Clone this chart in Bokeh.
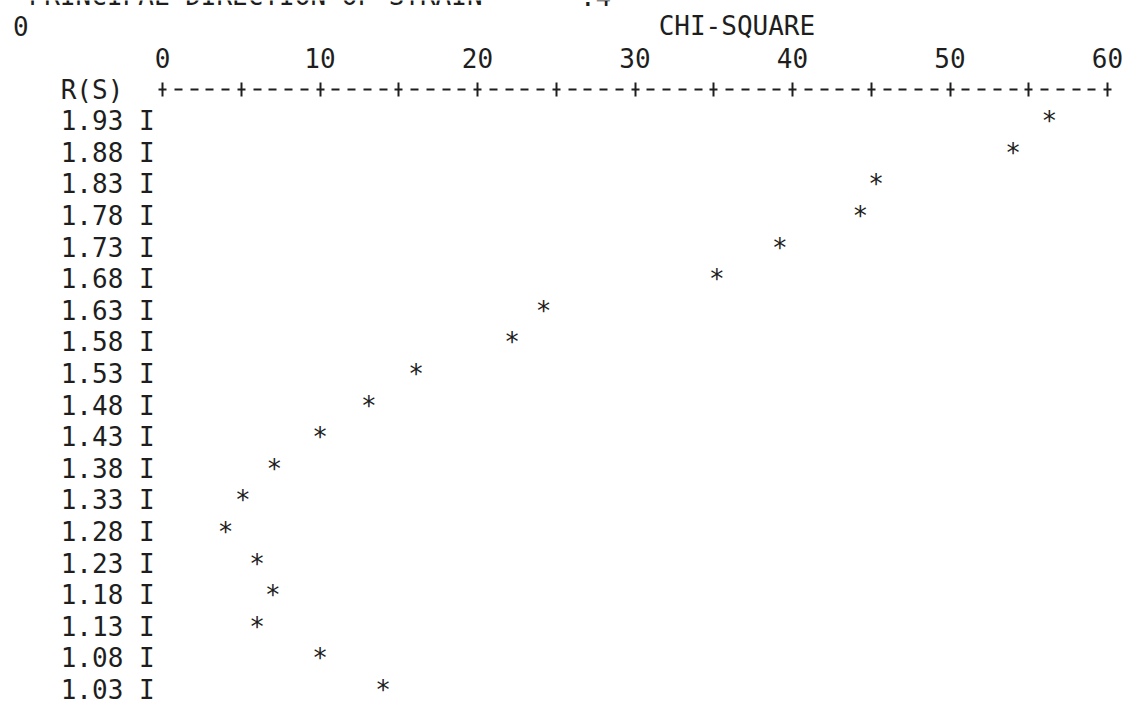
from bokeh.plotting import figure
from bokeh.models import (Range1d, FixedTicker, LinearAxis, CustomJSTickFormatter,
                          ColumnDataSource)
from bokeh.embed import file_html
from bokeh.resources import INLINE
from bokeh.core.properties import value

# ---- data ----
rs_values = [1.93, 1.88, 1.83, 1.78, 1.73, 1.68, 1.63, 1.58, 1.53, 1.48,
             1.43, 1.38, 1.33, 1.28, 1.23, 1.18, 1.13, 1.08, 1.03]
chi_square = [56.3, 54.0, 45.3, 44.3, 39.2, 35.2, 24.2, 22.2, 16.1, 13.1,
              10.0, 7.1, 5.1, 4.0, 6.0, 7.0, 6.0, 10.0, 14.0]
x_ticks = [0, 10, 20, 30, 40, 50, 60]
x_minor_ticks = [5, 15, 25, 35, 45, 55]
y_header_tick = 1.98          # printer row that carries the "+----+" scale line

title_text = "PRINCIPAL DIRECTION OF STRAIN"
title_eq = "="
title_value = ".4"
x_title = "CHI-SQUARE"
y_title = "R(S)"
carriage = "0"

FONT = "DejaVu Sans Mono"
FS = "26px"
INK = "#1e1e1e"

W, H = 1128, 704
U = 15.75          # px per chi-square unit (one printer column)
X0 = 162.0         # px of chi = 0
ROW = 31.6         # px per printer row (0.05 in R(S))
Y0 = 89.0          # px of the scale line row


def xr(px):
    return (px - X0) / U


def yr(py):
    return y_header_tick - (py - Y0) / ROW * 0.05


p = figure(width=W, height=H,
           x_range=Range1d(xr(0), xr(W)), y_range=Range1d(yr(H), yr(0)),
           output_backend="svg", toolbar_location=None,
           x_axis_location=None, y_axis_location=None,
           min_border_left=0, min_border_right=0, min_border_top=0, min_border_bottom=0,
           outline_line_color=None,
           background_fill_color="white", border_fill_color="white")
p.grid.visible = False

# top scale drawn like "+----+----+"
xaxis = LinearAxis(ticker=FixedTicker(ticks=x_ticks, minor_ticks=x_minor_ticks),
                   bounds=(-0.25, 60.25), fixed_location=y_header_tick)
xaxis.axis_line_color = INK
xaxis.axis_line_width = 2
xaxis.axis_line_dash = "8 8 8 8 8 7 8 8"
xaxis.major_tick_in = 7
xaxis.major_tick_out = 7
xaxis.minor_tick_in = 7
xaxis.minor_tick_out = 7
xaxis.major_tick_line_color = INK
xaxis.minor_tick_line_color = INK
xaxis.major_tick_line_width = 2
xaxis.minor_tick_line_width = 2
xaxis.major_label_standoff = 15
xaxis.major_label_text_font = FONT
xaxis.major_label_text_font_size = FS
xaxis.major_label_text_color = INK
p.add_layout(xaxis, "above")

# left scale: "R(S)" header and "1.93 I" row labels
yaxis = LinearAxis(
    ticker=FixedTicker(ticks=[y_header_tick] + rs_values),
    formatter=CustomJSTickFormatter(
        args=dict(head=y_header_tick, name=y_title),
        code="return Math.abs(tick - head) < 1e-6 ? name + '\\u00a0\\u00a0' : tick.toFixed(2) + ' I';"),
    fixed_location=-0.5)
yaxis.axis_line_color = None
yaxis.major_tick_line_color = None
yaxis.minor_tick_line_color = None
yaxis.major_tick_in = 0
yaxis.major_tick_out = 0
yaxis.major_label_standoff = 0
yaxis.major_label_text_font = FONT
yaxis.major_label_text_font_size = FS
yaxis.major_label_text_color = INK
p.add_layout(yaxis, "left")

# header lines of the printout
head_src = ColumnDataSource(dict(
    x=[-8.5, 21.5, 26.5, -9.5, 31.5],
    y=[yr(-5), yr(-5), yr(-5), yr(25), yr(25)],
    t=[title_text, title_eq, title_value, carriage, x_title],
))
p.text(x="x", y="y", text="t", source=head_src,
       text_font=value(FONT), text_font_size=value(FS),
       text_align="left", text_baseline="middle", text_color=INK)

# the plotted points
src = ColumnDataSource(dict(chi=chi_square, rs=rs_values, mark=["*"] * len(chi_square)))
p.text(x="chi", y="rs", text="mark", source=src,
       text_font=value(FONT), text_font_size=value(FS),
       text_align="center", text_baseline="middle", text_color=INK)

open("out.html", "w").write(file_html(p, INLINE))
